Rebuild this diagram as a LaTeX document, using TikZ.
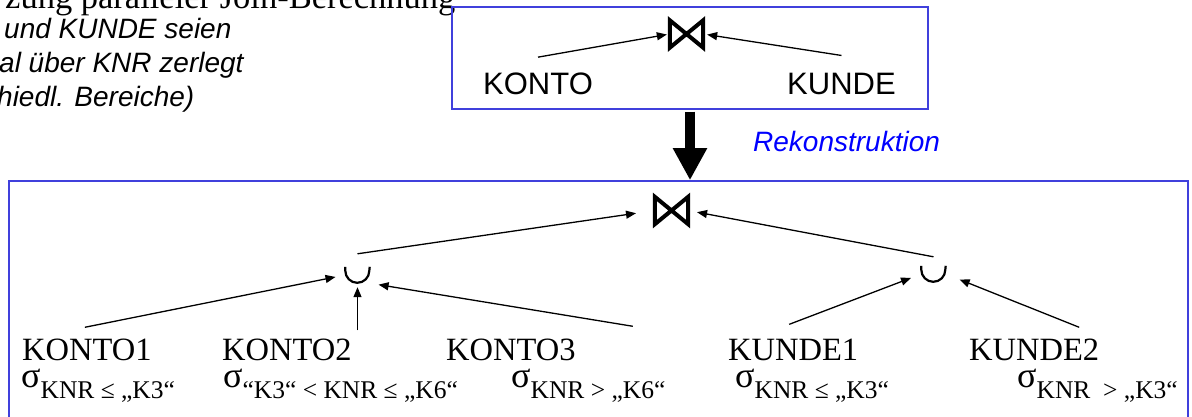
\documentclass[tikz,border=0pt]{standalone}
\usepackage{fontspec}
\setmainfont{Liberation Serif}
\newfontfamily\arialfont{Liberation Sans}
\usetikzlibrary{arrows.meta}

\definecolor{boxblue}{RGB}{64,64,220}
\definecolor{rekoblue}{RGB}{0,0,255}

\tikzset{
  >={Triangle[length=10pt,width=8pt]},
  framebox/.style={draw=boxblue, line width=1.5pt, inner sep=0pt},
  joinsym/.style={minimum width=33pt, minimum height=27pt, inner sep=0pt},
  joinline/.style={line width=4pt},
  unionsym/.style={minimum width=24pt, minimum height=16pt, inner sep=0pt},
  unionline/.style={line width=2.2pt},
  relname/.style={inner sep=0pt, anchor=base west, font=\fontsize{32.5}{32.5}\selectfont},
  selcond/.style={inner sep=0pt, anchor=base west, font=\fontsize{36}{36}\selectfont},
  toprel/.style={inner sep=0pt, anchor=base west, font=\arialfont\fontsize{31}{31}\selectfont},
  note/.style={inner sep=0pt, anchor=base west, font=\arialfont\itshape\fontsize{28}{28}\selectfont},
}
\newcommand{\subcond}[1]{\raisebox{-11pt}{\fontsize{25.5}{25.5}\selectfont #1}}

\begin{document}
\begin{tikzpicture}[x=1pt, y=-1pt]
\path[use as bounding box, clip] (0,0) rectangle (1192,417);

% text left top
\node (title) at (5,9) [inner sep=0pt, anchor=base west, font=\fontsize{34.5}{34.5}\selectfont] {zung paralleler Join-Berechnung};
\node (note1) at (4,39) [note] {und KUNDE seien};
\node (note2) at (-1,73) [note] {al über KNR zerlegt};
\node (note3) at (-3,107) [note] {hiedl. Bereiche)};

% query
\node (topbox) at (690,58) [framebox, minimum width=476pt, minimum height=102pt] {};
\node (join) at (686.5,34) [joinsym] {};
\node (konto) at (483,95) [toprel] {KONTO};
\node (kunde) at (787,95) [toprel] {KUNDE};

\path[->, line width=1.3pt]
    ([yshift=16pt]konto.north) edge[shorten >=3pt] (join.west)
    ([yshift=18pt]kunde.north) edge[shorten >=4pt] (join.east);

% reconstructed query
\node (lowbox) at (598.5,311) [framebox, minimum width=1179pt, minimum height=260pt] {};
\node (join2) at (671.5,210.5) [joinsym] {};
\node (union1) at (357.5,275) [unionsym] {};
\node (union2) at (933.5,274) [unionsym] {};

\draw[line width=10pt, -{Triangle[length=32pt,width=32pt]}, shorten <=2pt]
    (topbox.south) -- (topbox.south |- lowbox.north);
\node (reko) at (753,152) [inner sep=0pt, anchor=base west, text=rekoblue,
    font=\arialfont\itshape\fontsize{28}{28}\selectfont] {Rekonstruktion};

\node (konto1) at (22,360) [relname] {KONTO1};
\node (konto2) at (222,360) [relname] {KONTO2};
\node (konto3) at (446,360) [relname] {KONTO3};
\node (kunde1) at (728,360) [relname] {KUNDE1};
\node (kunde2) at (969,360) [relname] {KUNDE2};

\node (sel1) at (21,387) [selcond] {σ\subcond{KNR ≤ „K3“}};
\node (sel2) at (223,387) [selcond] {σ\subcond{“K3“ < KNR ≤ „K6“}};
\node (sel3) at (511,387) [selcond] {σ\subcond{KNR > „K6“}};
\node (sel4) at (735,387) [selcond] {σ\subcond{KNR ≤ „K3“}};
\node (sel5) at (1017,387) [selcond] {σ\subcond{KNR\ \ > „K3“}};

\foreach \j in {join,join2}
    \draw[joinline] (\j.north west) -- (\j.south east) -- (\j.north east) -- (\j.south west) -- cycle;
\foreach \u in {union1,union2}
    \draw[unionline] (\u.north west) -- ++(0pt,-4pt) arc[start angle=180,end angle=360,radius=12pt] -- (\u.north east);

\path[->, line width=1.3pt]
    ([yshift=13pt]union1.north) edge[shorten >=19pt] (join2.west)
    ([yshift=9pt]union2.north) edge[shorten >=9pt] (join2.east)
    ([xshift=-2pt,yshift=11pt]konto1.north) edge[shorten >=10pt] (union1.west)
    (konto2.north -| union1.south) edge[shorten <=8pt, shorten >=4pt] (union1.south)
    ([xshift=57pt,yshift=12pt]konto3.north east) edge[shorten >=9pt] (union1.south east)
    ([xshift=-4pt,yshift=14pt]kunde1.north) edge[shorten >=11pt] (union2.west)
    ([xshift=45pt,yshift=11pt]kunde2.north) edge[shorten >=15pt] (union2.east);
\end{tikzpicture}
\end{document}
